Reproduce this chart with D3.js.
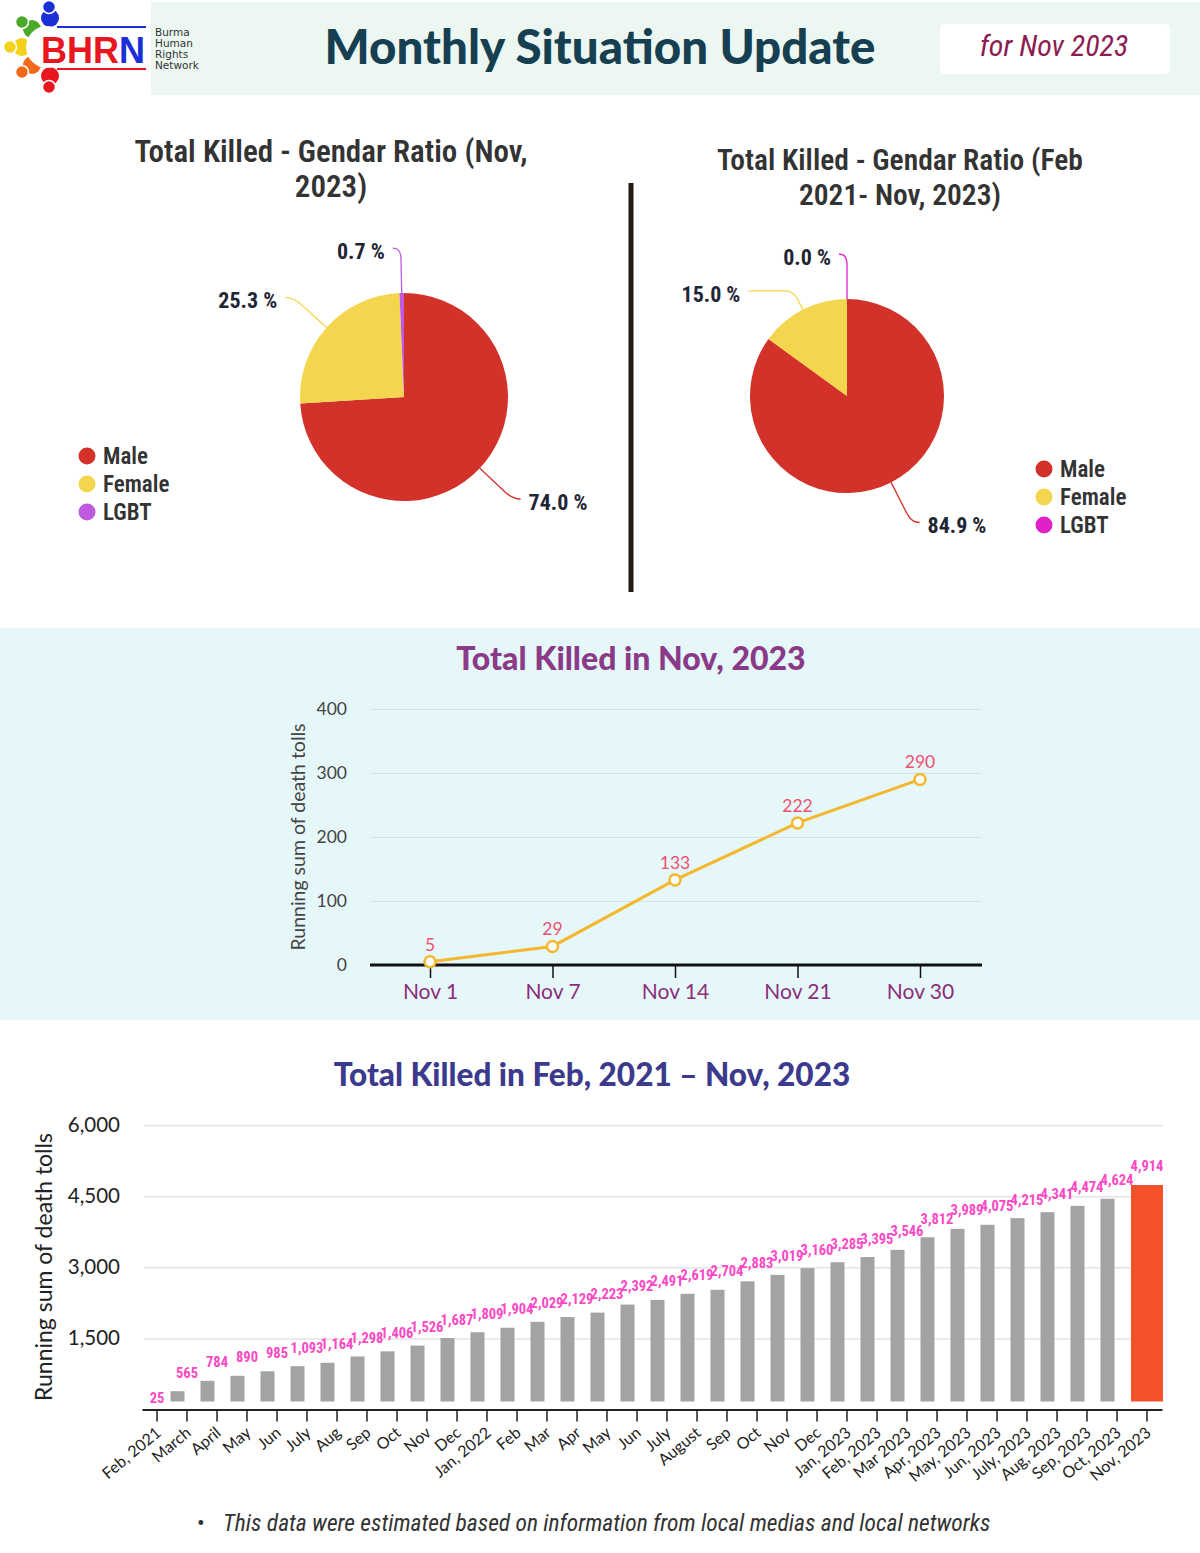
<!DOCTYPE html>
<html>
<head>
<meta charset="utf-8">
<script src="https://cdn.jsdelivr.net/npm/d3@7"></script>
<style>
  body { margin: 0; background: #fff; }
  svg { display: block; }
</style>
</head>
<body>
<script>
// ---- data ----
var genders      = ['Male', 'Female', 'LGBT'];
var novShares    = [74.0, 25.3, 0.7];     // % killed in Nov 2023
var allShares    = [84.9, 15.0, 0.0];     // % killed Feb 2021 - Nov 2023

var novDays      = ['Nov 1', 'Nov 7', 'Nov 14', 'Nov 21', 'Nov 30'];
var novTotals    = [5, 29, 133, 222, 290];
var novTicks     = [0, 100, 200, 300, 400];

var months = ['Feb, 2021', 'March', 'April', 'May', 'Jun', 'July', 'Aug', 'Sep', 'Oct', 'Nov', 'Dec',
              'Jan, 2022', 'Feb', 'Mar', 'Apr', 'May', 'Jun', 'July', 'August', 'Sep', 'Oct', 'Nov', 'Dec',
              'Jan, 2023', 'Feb, 2023', 'Mar 2023', 'Apr, 2023', 'May, 2023', 'Jun, 2023', 'July, 2023',
              'Aug, 2023', 'Sep, 2023', 'Oct, 2023', 'Nov, 2023'];
var monthTotals = [25, 565, 784, 890, 985, 1093, 1164, 1298, 1406, 1526, 1687, 1809, 1904, 2029, 2129,
                   2223, 2392, 2491, 2619, 2704, 2883, 3019, 3160, 3285, 3395, 3546, 3812, 3989, 4075,
                   4215, 4341, 4474, 4624, 4914];
var monthTicks  = [1500, 3000, 4500, 6000];

// ---- fonts ----
var COND = "'Roboto Condensed','Liberation Sans Narrow','DejaVu Sans Condensed',sans-serif";
var ROUND = "Lato,'Open Sans',sans-serif";

var W = 1200, H = 1553;
var svg = d3.select('body').append('svg')
            .attr('width', W)
            .attr('height', H);

// =============
// Header
// =============
svg.append('rect').attr('x', 151).attr('y', 2).attr('width', W - 151).attr('height', 93)
   .attr('fill', '#edf7f1');

// logo: five little people round the letters
var people = [
  { head: [49, 7],  body: [50, 18], c: '#1a2fd8' },
  { head: [22, 22], body: [32, 29], c: '#4aa82a' },
  { head: [10, 47], body: [22, 47], c: '#f2d21a' },
  { head: [22, 72], body: [32, 65], c: '#f26b1a' },
  { head: [49, 87], body: [50, 76], c: '#e8161e' }
];
var logo = svg.append('g');
people.forEach(function(p) {
  logo.append('circle').attr('cx', p.body[0]).attr('cy', p.body[1]).attr('r', 9).attr('fill', p.c);
  logo.append('circle').attr('cx', p.head[0]).attr('cy', p.head[1]).attr('r', 6.5)
      .attr('fill', p.c).attr('stroke', '#fff').attr('stroke-width', 1.5);
});
logo.append('circle').attr('cx', 47).attr('cy', 47).attr('r', 21).attr('fill', '#fff');
logo.append('line').attr('x1', 57).attr('x2', 146).attr('y1', 27).attr('y2', 27)
    .attr('stroke', '#1a2fd8').attr('stroke-width', 2);
logo.append('line').attr('x1', 57).attr('x2', 146).attr('y1', 69).attr('y2', 69)
    .attr('stroke', '#e8161e').attr('stroke-width', 2);
var bhrn = logo.append('text').attr('x', 41).attr('y', 63)
    .attr('font-family', "'Liberation Sans',Arial,sans-serif").attr('font-weight', 700)
    .attr('font-size', 37).attr('textLength', 104).attr('lengthAdjust', 'spacingAndGlyphs');
bhrn.append('tspan').attr('fill', '#e8161e').text('BHR');
bhrn.append('tspan').attr('fill', '#1a2fd8').text('N');
['Burma', 'Human', 'Rights', 'Network'].forEach(function(t, i) {
  logo.append('text').attr('x', 155).attr('y', 36 + i * 11).attr('font-size', 10.5)
      .attr('font-family', "'DejaVu Sans',sans-serif").attr('fill', '#333').text(t);
});

svg.append('text').attr('x', 600).attr('y', 64).attr('text-anchor', 'middle')
   .attr('font-family', ROUND).attr('font-weight', 900).attr('font-size', 47.5)
   .attr('fill', '#163f52').text('Monthly Situation Update');

svg.append('rect').attr('x', 940).attr('y', 24).attr('width', 230).attr('height', 50).attr('rx', 5)
   .attr('fill', '#fff');
svg.append('text').attr('x', 1054).attr('y', 56).attr('text-anchor', 'middle')
   .attr('font-family', COND).attr('font-style', 'italic').attr('font-size', 30)
   .attr('fill', '#8c1c52').text('for Nov 2023');

// =============
// Pie charts
// =============
function drawPie(cfg) {
  svg.selectAll(null).data(cfg.title).enter().append('text')
     .attr('x', cfg.titleX).attr('y', function(d, i) { return cfg.titleY + i * 35; })
     .attr('text-anchor', 'middle').attr('font-family', COND).attr('font-weight', 600)
     .attr('font-size', cfg.titleSize).attr('fill', '#333').text(function(d) { return d; });

  var g = svg.append('g').attr('transform', 'translate(' + cfg.cx + ',' + cfg.cy + ')');
  var arcs = d3.pie().sort(null).value(function(d) { return d; })(cfg.values);
  var arc = d3.arc().innerRadius(0).outerRadius(cfg.r);

  g.selectAll('path.slice').data(arcs).enter().append('path')
   .attr('class', 'slice').attr('d', arc)
   .attr('fill', function(d, i) { return cfg.colors[i]; });

  arcs.forEach(function(d, i) {
    var a = (d.startAngle + d.endAngle) / 2;
    var pt = function(rr) { return [rr * Math.sin(a), -rr * Math.cos(a)]; };
    var side = Math.sin(a) >= 0 ? 1 : -1;
    var p0 = pt(cfg.r), pk = pt(cfg.elbow[i] - 10), p1 = pt(cfg.elbow[i]);
    var pb = [p1[0] + side * Math.min(8, cfg.ext[i]), p1[1]];
    var p2 = [p1[0] + side * cfg.ext[i], p1[1]];
    g.append('path')
     .attr('d', 'M' + p0 + 'L' + pk + 'Q' + p1 + ' ' + pb + 'L' + p2)
     .attr('fill', 'none').attr('stroke', cfg.colors[i]).attr('stroke-width', 1.3);
    g.append('text').attr('x', p2[0] + side * 8).attr('y', p1[1] + 3).attr('dy', '0.35em')
     .attr('text-anchor', side > 0 ? 'start' : 'end')
     .attr('font-family', COND).attr('font-weight', 700).attr('font-size', 22)
     .attr('fill', '#1f2535').text(d3.format('.1f')(d.data) + ' %');
  });

  var leg = svg.append('g').attr('transform', 'translate(' + cfg.legX + ',' + cfg.legY + ')');
  leg.selectAll('circle').data(genders).enter().append('circle')
     .attr('cx', 0).attr('cy', function(d, i) { return i * 28; }).attr('r', 8.5)
     .attr('fill', function(d, i) { return cfg.colors[i]; });
  leg.selectAll('text').data(genders).enter().append('text')
     .attr('x', 16).attr('y', function(d, i) { return i * 28; }).attr('dy', '0.35em')
     .attr('font-family', COND).attr('font-weight', 600).attr('font-size', 23)
     .attr('fill', '#333').text(function(d) { return d; });
}

drawPie({
  title: ['Total Killed - Gendar Ratio (Nov,', '2023)'], titleX: 331, titleY: 162, titleSize: 31,
  values: novShares, colors: ['#d3322a', '#f4d64e', '#bd5ae0'],
  cx: 404, cy: 397, r: 104, elbow: [149, 149, 149], ext: [8, 8, 8],
  legX: 87, legY: 456
});
drawPie({
  title: ['Total Killed - Gendar Ratio (Feb', '2021- Nov, 2023)'], titleX: 900, titleY: 170, titleSize: 29.5,
  values: allShares, colors: ['#d3322a', '#f4d64e', '#e020c8'],
  cx: 847, cy: 396, r: 97, elbow: [142, 118, 142], ext: [8, 45, 8],
  legX: 1044, legY: 469
});

svg.append('line').attr('x1', 631).attr('x2', 631).attr('y1', 183).attr('y2', 592)
   .attr('stroke', '#241812').attr('stroke-width', 5);

// =============
// Line chart: Nov 2023
// =============
svg.append('rect').attr('x', 0).attr('y', 628).attr('width', W).attr('height', 392)
   .attr('fill', '#e6f7fa');
svg.append('text').attr('x', 631).attr('y', 670).attr('text-anchor', 'middle')
   .attr('font-family', ROUND).attr('font-weight', 900).attr('font-size', 32)
   .attr('fill', '#8a3a87').text('Total Killed in Nov, 2023');

var lx = d3.scalePoint().domain(novDays).range([430, 920]);
var ly = d3.scaleLinear().domain([0, 400]).range([965, 709]);
var lLeft = 370, lRight = 982;

var lyAxis = svg.append('g').attr('transform', 'translate(' + lLeft + ',0)')
   .call(d3.axisLeft(ly).tickValues(novTicks).tickSize(-(lRight - lLeft)).tickPadding(23));
lyAxis.select('.domain').remove();
lyAxis.selectAll('line').attr('stroke', '#dedede').attr('stroke-width', 1.2);
lyAxis.selectAll('text').attr('font-family', ROUND).attr('font-size', 17.5).attr('fill', '#444');

var lxAxis = svg.append('g').attr('transform', 'translate(0,' + ly(0) + ')')
   .call(d3.axisBottom(lx).tickSize(13).tickPadding(6));
lxAxis.select('.domain').remove();
lxAxis.selectAll('line').attr('stroke', '#111').attr('stroke-width', 1.5);
lxAxis.selectAll('text').attr('font-family', ROUND).attr('font-size', 21).attr('fill', '#8b2d7a');
svg.append('line').attr('x1', lLeft).attr('x2', lRight).attr('y1', ly(0)).attr('y2', ly(0))
   .attr('stroke', '#111').attr('stroke-width', 3);

svg.append('text').attr('transform', 'translate(305,837) rotate(-90)').attr('text-anchor', 'middle')
   .attr('font-family', ROUND).attr('font-size', 19.5).attr('fill', '#444')
   .text('Running sum of death tolls');

svg.append('path').datum(novTotals)
   .attr('d', d3.line().x(function(d, i) { return lx(novDays[i]); }).y(function(d) { return ly(d); }))
   .attr('fill', 'none').attr('stroke', '#f5b72d').attr('stroke-width', 3);
svg.selectAll('circle.pt').data(novTotals).enter().append('circle').attr('class', 'pt')
   .attr('cx', function(d, i) { return lx(novDays[i]); }).attr('cy', function(d) { return ly(d); })
   .attr('r', 5.5).attr('fill', '#fff').attr('stroke', '#f5b72d').attr('stroke-width', 2.5);
svg.selectAll('text.pt').data(novTotals).enter().append('text').attr('class', 'pt')
   .attr('x', function(d, i) { return lx(novDays[i]); }).attr('y', function(d) { return ly(d) - 11; })
   .attr('text-anchor', 'middle').attr('font-family', ROUND).attr('font-size', 17.5)
   .attr('fill', '#f0506e').text(function(d) { return d; });

// =============
// Bar chart: Feb 2021 - Nov 2023
// =============
svg.append('text').attr('x', 592).attr('y', 1086).attr('text-anchor', 'middle')
   .attr('font-family', ROUND).attr('font-weight', 900).attr('font-size', 31.5)
   .attr('fill', '#3b3a8c').text('Total Killed in Feb, 2021 \u2013 Nov, 2023');

var bLeft = 144, bRight = 1163;
var bx = d3.scaleBand().domain(d3.range(months.length)).range([142, 1162]);
var by = d3.scaleLinear().domain([0, 6000]).range([1409.5, 1125]);

var byAxis = svg.append('g').attr('transform', 'translate(' + bLeft + ',0)')
   .call(d3.axisLeft(by).tickValues(monthTicks).tickSize(-(bRight - bLeft)).tickPadding(24)
          .tickFormat(d3.format(',')));
byAxis.select('.domain').remove();
byAxis.selectAll('line').attr('stroke', '#e4e4e4').attr('stroke-width', 1.5);
byAxis.selectAll('text').attr('font-family', ROUND).attr('font-size', 20.5).attr('fill', '#222');

svg.append('text').attr('transform', 'translate(52,1267) rotate(-90)').attr('text-anchor', 'middle')
   .attr('font-family', ROUND).attr('font-size', 23).attr('fill', '#222')
   .text('Running sum of death tolls');

var last = months.length - 1;
var barTop = function(v) { return by(v) + 8.5; };
var barBottom = by(0) - 8;
svg.selectAll('rect.bar').data(monthTotals).enter().append('rect').attr('class', 'bar')
   .attr('x', function(d, i) {
     var c = bx(i) + bx.bandwidth() / 2;
     return i === last ? c - 16 : c - 16.5;
   })
   .attr('width', function(d, i) { return i === last ? 32 : 14; })
   .attr('y', function(d) { return barTop(d); })
   .attr('height', function(d) { return Math.max(0, barBottom - barTop(d)); })
   .attr('fill', function(d, i) { return i === last ? '#f4512c' : '#a3a3a3'; });

var bxAxis = svg.append('g').attr('transform', 'translate(0,' + by(0) + ')')
   .call(d3.axisBottom(bx).tickSize(12).tickSizeOuter(0)
          .tickFormat(function(i) { return months[i]; }));
bxAxis.select('.domain').attr('stroke', '#222').attr('stroke-width', 2);
bxAxis.selectAll('line').attr('stroke', '#222').attr('stroke-width', 1.5);
bxAxis.selectAll('text')
      .attr('y', 0).attr('dy', 0).attr('text-anchor', 'end')
      .attr('transform', 'translate(5,25) rotate(-40)')
      .attr('font-family', ROUND).attr('font-size', 16).attr('fill', '#222');

svg.selectAll('text.val').data(monthTotals).enter().append('text').attr('class', 'val')
   .attr('x', function(d, i) { return bx(i) + bx.bandwidth() / 2; })
   .attr('y', function(d) { return by(d) - 5; })
   .attr('text-anchor', 'middle').attr('font-family', COND).attr('font-weight', 700)
   .attr('font-size', 14.5).attr('fill', '#fb48c4').text(function(d) { return d3.format(',')(d); });

// footnote
svg.append('text').attr('x', 197).attr('y', 1531).attr('font-size', 23)
   .attr('font-family', COND).attr('fill', '#333').text('\u2022');
svg.append('text').attr('x', 223).attr('y', 1531).attr('font-size', 23.5)
   .attr('font-family', COND).attr('font-style', 'italic').attr('fill', '#333')
   .text('This data were estimated based on information from local medias and local networks');
</script>
</body>
</html>
